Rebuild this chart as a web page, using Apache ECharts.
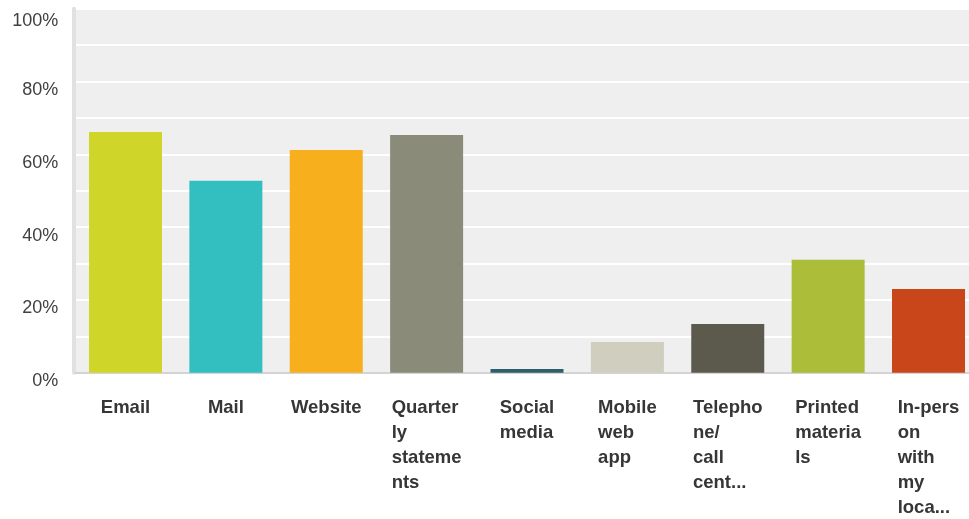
<!DOCTYPE html>
<html>
<head>
<meta charset="utf-8">
<title>Preferred communication channels</title>
<script src="https://cdn.jsdelivr.net/npm/echarts@6/dist/echarts.min.js"></script>
<style>
  html, body { margin: 0; padding: 0; background: #ffffff; }
  #chart { width: 969px; height: 519px; }
</style>
</head>
<body>
<div id="chart"></div>
<script>
// Channel names, already wrapped into the short lines shown under each bar
const categories = [
  'Email',
  'Mail',
  'Website',
  'Quarter\nly\nstateme\nnts',
  'Social\nmedia',
  'Mobile\nweb\napp',
  'Telepho\nne/\ncall\ncent...',
  'Printed\nmateria\nls',
  'In-pers\non\nwith\nmy\nloca...'
];

// Share of respondents choosing each channel (%)
const responseShares = [66.1, 52.7, 61.2, 65.3, 1.0, 8.4, 13.4, 31.0, 23.0];

// One colour per channel
const barColors = [
  '#d0d52a', '#33bec0', '#f7af1e', '#8b8b7a', '#2f5e6b',
  '#cfcebf', '#5c5a4c', '#abbd39', '#c9461b'
];

// Labelled values on the percentage axis (grid lines are drawn every 10%)
const yTickLabels = [0, 20, 40, 60, 80, 100];

const FONT = '"Liberation Sans", Arial, Helvetica, sans-serif';

const chart = echarts.init(document.getElementById('chart'), null, { renderer: 'canvas' });

chart.setOption({
  animation: false,
  grid: {
    left: 75.3,
    top: 8.7,
    width: 903.4,
    height: 364,
    outerBoundsMode: 'none',
    containLabel: false,
    show: true,
    backgroundColor: '#efefef',
    borderWidth: 0
  },
  xAxis: {
    type: 'category',
    data: categories,
    axisTick: { show: false },
    axisLine: { show: true, lineStyle: { color: '#d4d4d4', width: 2 } },
    splitLine: { show: false },
    axisLabel: {
      interval: 0,
      margin: 23,
      formatter: function (value) {
        return value.split('\n').map(function (line) { return '{a|' + line + '}'; }).join('\n');
      },
      rich: {
        a: {
          align: 'left',
          fontFamily: FONT,
          fontSize: 18.5,
          fontWeight: 'bold',
          lineHeight: 25,
          color: '#363636'
        }
      }
    }
  },
  yAxis: {
    type: 'value',
    min: 0,
    max: 100,
    interval: 10,
    offset: 2,
    axisTick: { show: false },
    axisLine: { show: true, lineStyle: { color: '#e1e1e1', width: 4 } },
    splitLine: { show: true, lineStyle: { color: '#ffffff', width: 2 } },
    axisLabel: {
      margin: 15,
      verticalAlign: 'top',
      formatter: function (value) {
        if (yTickLabels.indexOf(value) < 0) return '';
        return value === 100 ? '{top|' + value + '%}' : '{v|' + value + '%}';
      },
      rich: {
        v: { fontFamily: FONT, fontSize: 18, lineHeight: 17, color: '#404040' },
        top: { fontFamily: FONT, fontSize: 18, lineHeight: 17, color: '#404040', padding: [7, 0, 0, 0] }
      }
    }
  },
  series: [{
    type: 'bar',
    barWidth: 73,
    data: responseShares.map(function (v, i) {
      return { value: v, itemStyle: { color: barColors[i] } };
    })
  }]
});
</script>
</body>
</html>
